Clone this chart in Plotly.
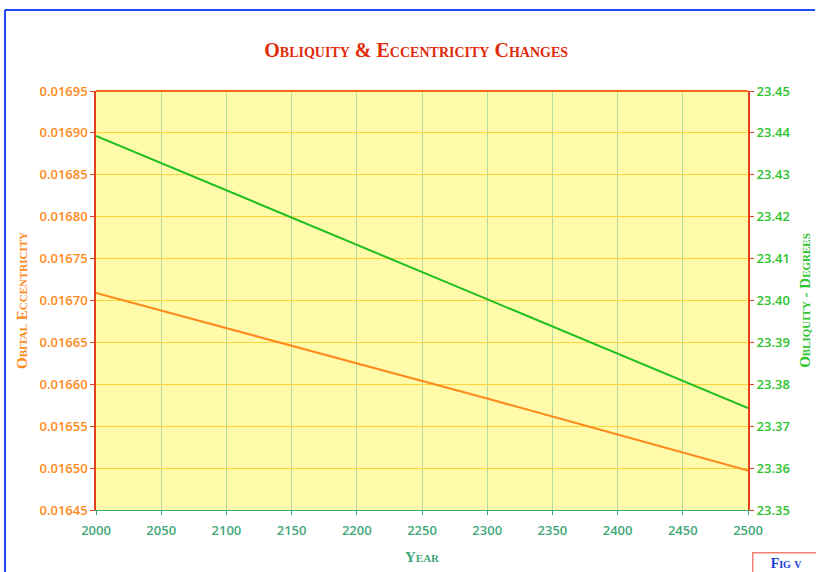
import plotly.graph_objects as go

years = [2000, 2100, 2200, 2300, 2400, 2500]
eccentricity = [0.016709, 0.016667, 0.016625, 0.016583, 0.016540, 0.016497]
obliquity = [23.4393, 23.4263, 23.4133, 23.4003, 23.3873, 23.3743]

title_text = "Obliquity & Eccentricity Changes"
x_title = "Year"
y1_title = "Obital Eccentricity"
y2_title = "Obliquity - Degrees"
fig_label = "Fig v"

ORANGE = "#ff8a1c"
GREEN = "#2ec42e"
XGREEN = "#3fa878"
RED = "#e8401a"
tick_font = dict(family="Open Sans", size=13, weight=600)

fig = go.Figure()
fig.add_trace(go.Scatter(x=years, y=eccentricity, mode="lines", name="Eccentricity",
                         line=dict(color=ORANGE, width=2)))
fig.add_trace(go.Scatter(x=years, y=obliquity, mode="lines", name="Obliquity", yaxis="y2",
                         line=dict(color="#1fbf1f", width=2)))

fig.update_layout(
    width=816, height=572,
    margin=dict(l=96, r=68, t=91, b=62, autoexpand=False),
    paper_bgcolor="white", plot_bgcolor="#fffbaa",
    showlegend=False,
    title=dict(text=title_text, x=0.51, xanchor="center", y=0.912, yanchor="middle",
               font=dict(family="Liberation Serif", size=20, color="#e02a0a",
                         weight="bold", variant="small-caps")),
    xaxis=dict(range=[2000, 2500], dtick=50, tick0=2000, automargin=False,
               showgrid=True, gridcolor="#b2dca0", gridwidth=1,
               showline=True, linecolor=XGREEN, linewidth=1, mirror=False,
               ticks="outside", ticklen=4, tickcolor=XGREEN, ticklabelstandoff=4,
               tickfont=dict(color=XGREEN, **tick_font),
               title=dict(text=x_title, standoff=13,
                          font=dict(family="Liberation Serif", size=15, color=XGREEN,
                                    weight="bold", variant="small-caps")),
               zeroline=False),
    yaxis=dict(range=[0.01645, 0.01695], dtick=0.00005, tickformat=".5f", automargin=False,
               showgrid=True, gridcolor="#ffd53a", gridwidth=1,
               showline=True, linecolor=RED, linewidth=1.5,
               ticks="outside", ticklen=4, tickcolor=RED,
               tickfont=dict(color=ORANGE, **tick_font),
               title=dict(text=y1_title, standoff=8,
                          font=dict(family="Liberation Serif", size=15, color=ORANGE,
                                    weight="bold", variant="small-caps")),
               zeroline=False),
    yaxis2=dict(range=[23.35, 23.45], dtick=0.01, tickformat=".2f", automargin=False,
                overlaying="y", side="right", showgrid=False,
                showline=True, linecolor=RED, linewidth=2,
                ticks="outside", ticklen=4, tickcolor=RED,
                tickfont=dict(color=GREEN, **tick_font),
                title=dict(text=y2_title, standoff=10,
                           font=dict(family="Liberation Serif", size=15, color=GREEN,
                                     weight="bold", variant="small-caps")),
                zeroline=False),
)

# top border of the plot area
fig.add_shape(type="line", xref="paper", yref="paper", x0=0, x1=1, y0=1, y1=1,
              line=dict(color="#ff6a1a", width=2))

# blue frame of the page
fig.add_shape(type="line", xref="paper", yref="paper", x0=-0.1396, x1=1.1028,
              y0=1.1933, y1=1.1933, line=dict(color="#1e4cf0", width=2))
fig.add_shape(type="line", xref="paper", yref="paper", x0=-0.1396, x1=-0.1396,
              y0=1.1933, y1=-0.16, line=dict(color="#1e4cf0", width=2))

# figure label box
fig.add_annotation(xref="paper", yref="paper", x=1.006, y=-0.100, xanchor="left", yanchor="top",
                   text=fig_label, showarrow=False, width=64, height=18,
                   bordercolor="#f08070", borderwidth=1.5, bgcolor="white",
                   font=dict(family="Liberation Serif", size=14, color="#1a3ad8",
                             weight="bold", variant="small-caps"))

fig.write_html("out.html", config={"displayModeBar": False},
               post_script="document.body.style.margin='0';")
